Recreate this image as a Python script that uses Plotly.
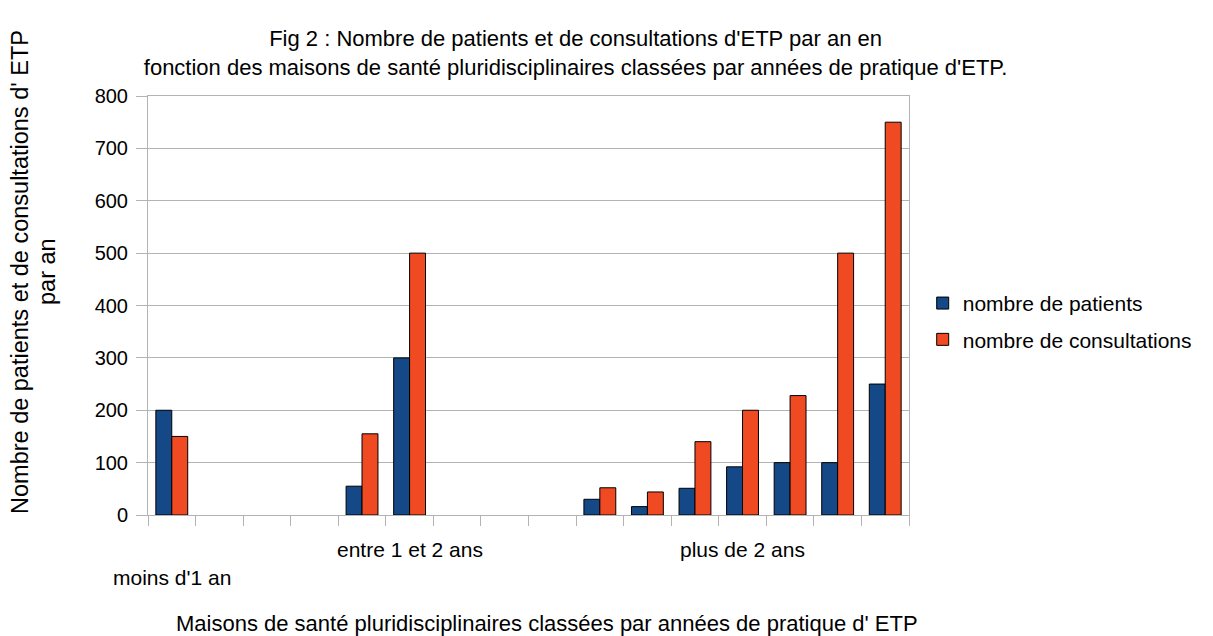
import plotly.graph_objects as go

# one slot per maison de santé, sorted by years of ETP practice
msp = list(range(16))
patients = [200, None, None, None, 55, 300, None, None, None, 30, 16, 51, 92, 100, 100, 250]
consultations = [150, None, None, None, 155, 500, None, None, None, 52, 44, 140, 200, 228, 500, 750]

group_labels = ["moins d'1 an", "entre 1 et 2 ans", "plus de 2 ans"]
group_pos = [0, 5, 12]
group_shift = [-62, -34, -34]

y_ticks = [0, 100, 200, 300, 400, 500, 600, 700, 800]

FONT = "Liberation Sans, Arial, sans-serif"
GRID = "#b3b3b3"

fig = go.Figure()
fig.add_trace(go.Bar(x=msp, y=patients, name="nombre de patients", legendgroup="a",
                     marker=dict(color="#144886", line=dict(color="#000000", width=1))))
fig.add_trace(go.Bar(x=msp, y=consultations, name="nombre de consultations", legendgroup="b",
                     marker=dict(color="#f04a22", line=dict(color="#000000", width=1))))

for lab, pos, sh in zip(group_labels, group_pos, group_shift):
    fig.add_annotation(x=pos, y=0, xref="x", yref="paper", text=lab, showarrow=False,
                       yanchor="middle", yshift=sh, font=dict(size=21))

# y axis title, two lines placed separately
fig.add_annotation(text="Nombre de patients et de consultations d' ETP",
                   xref="paper", yref="paper", x=-0.1682, y=0.58, xanchor="center", yanchor="middle",
                   textangle=-90, showarrow=False, font=dict(size=23.5), borderpad=0)
fig.add_annotation(text="par an",
                   xref="paper", yref="paper", x=-0.1327, y=0.58, xanchor="center", yanchor="middle",
                   textangle=-90, showarrow=False, font=dict(size=23.5), borderpad=0)
fig.add_annotation(text="Maisons de santé pluridisciplinaires classées par années de pratique d' ETP",
                   xref="paper", yref="paper", x=0.524, y=0, yshift=-108, xanchor="center",
                   yanchor="middle", showarrow=False, font=dict(size=22))

fig.update_layout(
    width=1205, height=628, autosize=False,
    margin=dict(l=140, r=304, t=88, b=121),
    paper_bgcolor="white", plot_bgcolor="white",
    font=dict(family=FONT, size=20, color="#000000"),
    title=dict(text="Fig 2 : Nombre de patients et de consultations d'ETP par an en<br>"
                    "fonction des maisons de santé pluridisciplinaires classées par années de pratique d'ETP.",
               x=0.471, xanchor="center", y=0.939, yanchor="middle", font=dict(size=22)),
    barmode="group", bargap=0.33, bargroupgap=0,
    legend=dict(x=1.018, y=0.462, xanchor="left", yanchor="middle", tracegroupgap=6,
                font=dict(size=21)),
    xaxis=dict(range=[-0.5, 15.5], tickvals=[i - 0.5 for i in range(17)],
               ticktext=[""] * 17, ticks="outside", ticklen=10, tickcolor=GRID,
               showline=True, linecolor=GRID, mirror=True, showgrid=False, zeroline=False),
    yaxis=dict(range=[0, 800], tickvals=y_ticks, ticks="outside", ticklen=11,
               tickcolor=GRID, gridcolor=GRID, showline=True, linecolor=GRID, mirror=True,
               zeroline=False, ticklabelstandoff=4),
)

fig.write_html("out.html")
